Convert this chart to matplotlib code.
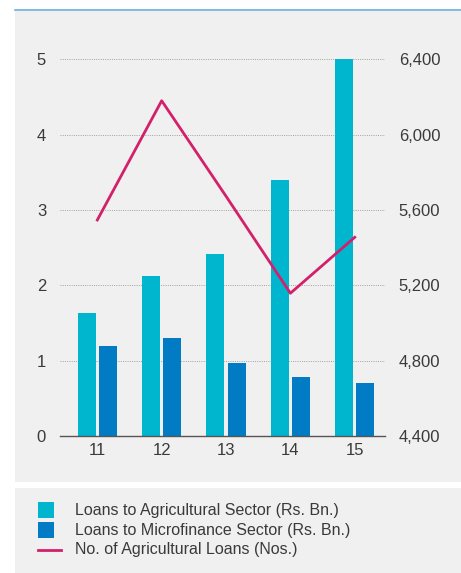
import matplotlib

matplotlib.use("Agg")
import matplotlib.pyplot as plt
import numpy as np
from matplotlib.lines import Line2D
from matplotlib.patches import Rectangle

W, H = 461, 573

years = ["11", "12", "13", "14", "15"]
agri_loans_bn = [1.63, 2.12, 2.42, 3.40, 5.00]
micro_loans_bn = [1.19, 1.30, 0.97, 0.78, 0.71]
agri_loan_count = [5547, 6180, 5673, 5158, 5455]

left_ticks = [0, 1, 2, 3, 4, 5]
right_ticks = [4400, 4800, 5200, 5600, 6000, 6400]

legend_labels = [
    "Loans to Agricultural Sector (Rs. Bn.)",
    "Loans to Microfinance Sector (Rs. Bn.)",
    "No. of Agricultural Loans (Nos.)",
]

CYAN = "#00b6ce"
BLUE = "#017bc3"
MAGENTA = "#d3206b"
PANEL = "#f0f0f0"
TEXT = "#3a3a3a"

plt.rcParams["font.family"] = ["Liberation Sans", "DejaVu Sans"]


def fx(x):
    return x / W


def fy(y):
    return 1 - y / H


fig = plt.figure(figsize=(W / 100, H / 100), dpi=100)
fig.patch.set_facecolor("white")

# background panels and the thin rule on top
fig.patches.append(Rectangle((fx(15), fy(482)), fx(W) - fx(15), fy(9) - fy(482),
                             transform=fig.transFigure, facecolor=PANEL, edgecolor="none", zorder=-5))
fig.patches.append(Rectangle((fx(15), fy(H)), fx(W) - fx(15), fy(488) - fy(H),
                             transform=fig.transFigure, facecolor=PANEL, edgecolor="none", zorder=-5))
fig.lines.append(Line2D([fx(15), fx(W)], [fy(9.5), fy(9.5)], transform=fig.transFigure,
                        color="#6db3df", linewidth=1.2, zorder=-4))

ax_left, ax_right, ax_top, ax_bottom = 60, 385, 59.3, 436
ax = fig.add_axes([fx(ax_left), fy(ax_bottom), fx(ax_right) - fx(ax_left), fy(ax_top) - fy(ax_bottom)])
ax.set_facecolor("none")
ax.set_zorder(2)
ax2 = ax.twinx()
ax2.set_zorder(3)
ax2.set_facecolor("none")

x = np.arange(len(years))
bw = 0.28
off = 0.165
ax.bar(x - off, agri_loans_bn, width=bw, color=CYAN, zorder=2)
ax.bar(x + off, micro_loans_bn, width=bw, color=BLUE, zorder=2)

ax.set_xlim(-0.58, 4.47)
ax.set_ylim(0, 5)
ax.set_yticks(left_ticks)
ax.set_yticklabels([str(t) for t in left_ticks])
ax.set_xticks(x)
ax.set_xticklabels(years)
for t in left_ticks[1:]:
    ax.axhline(t, color="#a0a0a0", linestyle=(0, (1, 1.3)), linewidth=0.7, zorder=1)

for side in ["top", "left", "right"]:
    ax.spines[side].set_visible(False)
    ax2.spines[side].set_visible(False)
ax2.spines["bottom"].set_visible(False)
ax.spines["bottom"].set_color("#555555")
ax.spines["bottom"].set_linewidth(1.0)
ax.spines["bottom"].set_zorder(3)

ax.tick_params(axis="y", length=0, pad=10, labelsize=12, labelcolor=TEXT)
ax.tick_params(axis="x", length=0, pad=5, labelsize=12, labelcolor=TEXT)

ax2.plot(x, agri_loan_count, color=MAGENTA, linewidth=2.0, zorder=4)
ax2.set_ylim(4400, 6400)
ax2.set_yticks(right_ticks)
ax2.set_yticklabels([f"{t:,}" for t in right_ticks])
ax2.tick_params(axis="y", length=0, pad=10, labelsize=12, labelcolor=TEXT)

# legend drawn by hand
for i, color in enumerate([CYAN, BLUE]):
    top = 501.7 + i * 20
    fig.patches.append(Rectangle((fx(38), fy(top + 16)), fx(16), fy(top) - fy(top + 16),
                                 transform=fig.transFigure, facecolor=color, edgecolor="none"))
fig.lines.append(Line2D([fx(38), fx(61)], [fy(549.5), fy(549.5)], transform=fig.transFigure,
                        color=MAGENTA, linewidth=2.0))
for i, label in enumerate(legend_labels):
    fig.text(fx(75), fy(510.5 + i * 19.7), label, fontsize=11.5, color=TEXT,
             ha="left", va="center")

fig.savefig("out.png", dpi=100)
